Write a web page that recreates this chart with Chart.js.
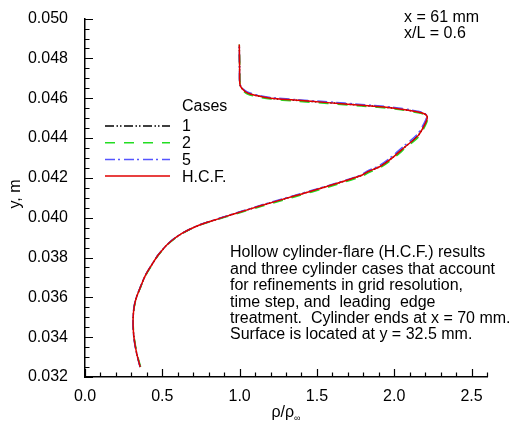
<!DOCTYPE html>
<html>
<head>
<meta charset="utf-8">
<script src="https://cdn.jsdelivr.net/npm/chart.js@4.4.1/dist/chart.umd.min.js"></script>
<style>
  html, body { margin: 0; padding: 0; background: #fff; }
  #wrap { width: 519px; height: 425px; }
</style>
</head>
<body>
<div id="wrap"><canvas id="chart" width="519" height="425"></canvas></div>
<script>
// axis ticks
const xTicks = [0.0, 0.5, 1.0, 1.5, 2.0, 2.5];
const yTicks = [0.032, 0.034, 0.036, 0.038, 0.040, 0.042, 0.044, 0.046, 0.048, 0.050];
const xMinorStep = 0.1;
const yMinorStep = 0.0005;

const seriesLabels = ['1', '2', '5', 'H.C.F.'];

// density profiles [rho/rho_inf, y (m)]
const case1 = [
  [0.357, 0.0325], [0.334, 0.0332], [0.318, 0.0339], [0.311, 0.0346], [0.313, 0.0352],
  [0.322, 0.0357], [0.336, 0.03607], [0.358, 0.0365], [0.390, 0.03709], [0.433, 0.03765],
  [0.476, 0.03815], [0.541, 0.03872], [0.627, 0.03921], [0.736, 0.03962], [0.844, 0.03990],
  [0.952, 0.04016], [1.136, 0.0406], [1.353, 0.04109], [1.569, 0.04158], [1.786, 0.04212],
  [1.829, 0.04231], [1.905, 0.04256], [1.981, 0.04297], [2.067, 0.04354], [2.153, 0.04411],
  [2.198, 0.04469], [2.213, 0.04505], [2.198, 0.04521], [2.153, 0.04531], [2.002, 0.0455],
  [1.786, 0.04565], [1.569, 0.04578], [1.353, 0.04590], [1.200, 0.04600], [1.115, 0.04612],
  [1.050, 0.04627], [1.017, 0.04648], [1.002, 0.04670], [1.000, 0.0475], [0.998, 0.0487]
];
const case2 = [
  [0.360, 0.0325], [0.336, 0.0332], [0.320, 0.0339], [0.312, 0.0346], [0.314, 0.0352],
  [0.323, 0.0357], [0.337, 0.03607], [0.359, 0.0365], [0.392, 0.03709], [0.435, 0.03765],
  [0.478, 0.03815], [0.544, 0.03872], [0.630, 0.03921], [0.740, 0.03962], [0.848, 0.03989],
  [0.957, 0.04014], [1.142, 0.04057], [1.360, 0.04105], [1.576, 0.04154], [1.793, 0.04208],
  [1.836, 0.04227], [1.911, 0.04252], [1.987, 0.04293], [2.073, 0.04350], [2.158, 0.04407],
  [2.203, 0.04466], [2.217, 0.04502], [2.200, 0.04517], [2.153, 0.04527], [2.002, 0.04546],
  [1.786, 0.04561], [1.569, 0.04574], [1.353, 0.04586], [1.200, 0.04596], [1.115, 0.04607],
  [1.050, 0.04621], [1.020, 0.04640], [1.004, 0.04665], [1.001, 0.0475], [0.998, 0.0487]
];
const case5 = [
  [0.356, 0.0325], [0.333, 0.0332], [0.317, 0.0339], [0.310, 0.0346], [0.312, 0.0352],
  [0.321, 0.0357], [0.335, 0.03607], [0.357, 0.0365], [0.389, 0.03709], [0.432, 0.03765],
  [0.475, 0.03815], [0.540, 0.03872], [0.625, 0.03921], [0.734, 0.03962], [0.842, 0.03990],
  [0.950, 0.04017], [1.133, 0.04062], [1.350, 0.04111], [1.566, 0.04160], [1.782, 0.04214],
  [1.824, 0.04234], [1.899, 0.04260], [1.974, 0.04301], [2.059, 0.04358], [2.145, 0.04415],
  [2.192, 0.04472], [2.210, 0.04508], [2.197, 0.04525], [2.152, 0.04535], [2.002, 0.04554],
  [1.786, 0.04569], [1.569, 0.04582], [1.353, 0.04594], [1.200, 0.04604], [1.115, 0.04616],
  [1.050, 0.04632], [1.016, 0.04652], [1.001, 0.04675], [0.999, 0.0475], [0.998, 0.0487]
];
const hcf = [
  [0.357, 0.0325], [0.334, 0.0332], [0.318, 0.0339], [0.311, 0.0346], [0.313, 0.0352],
  [0.322, 0.0357], [0.336, 0.03607], [0.358, 0.0365], [0.390, 0.03709], [0.433, 0.03765],
  [0.476, 0.03815], [0.541, 0.03872], [0.627, 0.03921], [0.736, 0.03962], [0.844, 0.03990],
  [0.952, 0.04016], [1.136, 0.0406], [1.353, 0.04109], [1.569, 0.04158], [1.786, 0.04212],
  [1.829, 0.04231], [1.905, 0.04256], [1.981, 0.04297], [2.067, 0.04354], [2.153, 0.04411],
  [2.198, 0.04469], [2.214, 0.04505], [2.198, 0.04521], [2.153, 0.04531], [2.002, 0.0455],
  [1.786, 0.04565], [1.569, 0.04578], [1.353, 0.04591], [1.200, 0.04600], [1.115, 0.04612],
  [1.050, 0.04627], [1.017, 0.04648], [1.002, 0.04670], [1.000, 0.0475], [0.998, 0.0487]
];

const FONT = '"Liberation Sans", Arial, Helvetica, sans-serif';
const toPts = arr => arr.map(p => ({ x: p[0], y: p[1] }));

const noteLines = [
  'Hollow cylinder-flare (H.C.F.) results',
  'and three cylinder cases that account',
  'for refinements in grid resolution,',
  'time step, and  leading  edge',
  'treatment.  Cylinder ends at x = 70 mm.',
  'Surface is located at y = 32.5 mm.'
];

const decorations = {
  id: 'decorations',
  afterDraw(chart) {
    const ctx = chart.ctx;
    const xs = chart.scales.x, ys = chart.scales.y;
    const area = chart.chartArea;
    ctx.save();

    // inward tick marks
    ctx.strokeStyle = '#000';
    ctx.lineWidth = 1.2;
    ctx.beginPath();
    for (let i = 0; ; i++) {
      const v = +(xs.min + i * xMinorStep).toFixed(4);
      if (v > xs.max + 1e-9) break;
      const px = Math.round(xs.getPixelForValue(v)) + 0.5;
      const len = (i % 5 === 0) ? 8 : 4.5;
      ctx.moveTo(px, area.bottom);
      ctx.lineTo(px, area.bottom - len);
    }
    for (let i = 0; ; i++) {
      const v = +(ys.min + i * yMinorStep).toFixed(6);
      if (v > ys.max + 1e-9) break;
      const py = Math.round(ys.getPixelForValue(v)) + 0.5;
      const len = (i % 4 === 0) ? 8 : 4.5;
      ctx.moveTo(area.left, py);
      ctx.lineTo(area.left + len, py);
    }
    ctx.stroke();

    ctx.fillStyle = '#000';
    ctx.font = '16px ' + FONT;
    ctx.textBaseline = 'middle';
    ctx.textAlign = 'left';

    // legend
    ctx.fillText('Cases', 182, 107);
    chart.data.datasets.forEach((ds, i) => {
      const y = 126 + i * 16.7;
      ctx.save();
      ctx.strokeStyle = ds.borderColor;
      ctx.lineWidth = 1.5;
      ctx.setLineDash(ds.borderDash || []);
      ctx.beginPath();
      ctx.moveTo(105, y);
      ctx.lineTo(170, y);
      ctx.stroke();
      ctx.restore();
      ctx.fillText(ds.label, 182, y + 1);
    });

    // annotations
    ctx.fillText('x = 61 mm', 404, 18);
    ctx.fillText('x/L = 0.6', 404, 34);
    noteLines.forEach((t, i) => ctx.fillText(t, 230, 253 + i * 16.4));

    // axis titles
    ctx.save();
    ctx.translate(16, 194);
    ctx.rotate(-Math.PI / 2);
    ctx.textAlign = 'center';
    ctx.fillText('y, m', 0, 0);
    ctx.restore();

    const main = 'ρ/ρ';
    const wMain = ctx.measureText(main).width;
    ctx.font = '9px ' + FONT;
    const wSub = ctx.measureText('∞').width;
    const x0 = (area.left + area.right) / 2 - (wMain + wSub) / 2;
    ctx.font = '16px ' + FONT;
    ctx.fillText(main, x0, 413);
    ctx.font = '9px ' + FONT;
    ctx.fillText('∞', x0 + wMain, 419);

    ctx.restore();
  }
};

const lineDs = (label, data, color, dash, order) => ({
  label,
  data: toPts(data),
  borderColor: color,
  borderWidth: 1.5,
  borderDash: dash,
  showLine: true,
  pointRadius: 0,
  tension: 0.3,
  fill: false,
  order
});

new Chart(document.getElementById('chart'), {
  type: 'scatter',
  data: {
    datasets: [
      lineDs(seriesLabels[0], case1, '#000000', [9, 2.5, 1.5, 2, 1.5, 2.5], 3),
      lineDs(seriesLabels[1], case2, '#22dd22', [10, 9], 2),
      lineDs(seriesLabels[2], case5, '#5555ff', [10, 3, 2, 4], 1),
      lineDs(seriesLabels[3], hcf, '#e00000', [], 0)
    ]
  },
  options: {
    responsive: false,
    animation: false,
    devicePixelRatio: 1,
    layout: { padding: { top: 10, right: 32, left: 0, bottom: 0 } },
    plugins: { legend: { display: false }, tooltip: { enabled: false } },
    scales: {
      x: {
        type: 'linear',
        min: 0, max: 2.6,
        afterFit: s => { s.height = 48; },
        afterBuildTicks: s => { s.ticks = xTicks.map(v => ({ value: v })); },
        grid: { display: false },
        border: { display: true, color: '#000', width: 1.5 },
        ticks: {
          color: '#000',
          font: { family: FONT, size: 16 },
          padding: 2,
          maxRotation: 0,
          callback: v => v.toFixed(1)
        }
      },
      y: {
        type: 'linear',
        min: 0.032, max: 0.050,
        afterFit: s => { s.width = 85; },
        afterBuildTicks: s => { s.ticks = yTicks.map(v => ({ value: v })); },
        grid: { display: false },
        border: { display: true, color: '#000', width: 1.5 },
        ticks: {
          color: '#000',
          font: { family: FONT, size: 16 },
          padding: 9,
          callback: v => v.toFixed(3)
        }
      }
    }
  },
  plugins: [decorations]
});
</script>
</body>
</html>
